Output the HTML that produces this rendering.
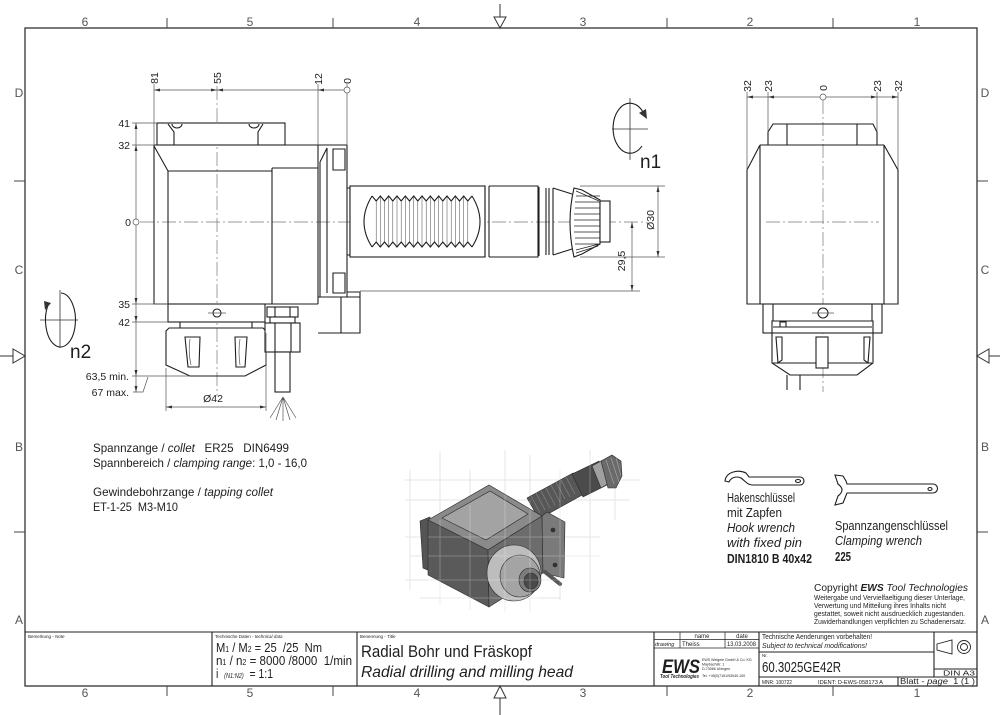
<!DOCTYPE html>
<html><head><meta charset="utf-8"><style>
html,body{margin:0;padding:0;background:#fff}
svg{display:block}
text{font-family:"Liberation Sans","DejaVu Sans",sans-serif;fill:#1e1e1e;white-space:pre}
.o{fill:none;stroke:#1e1e1e;stroke-width:1.1}
.w{fill:#fff;stroke:#1e1e1e;stroke-width:1.1}
.d{fill:none;stroke:#555;stroke-width:.7}
.c{fill:none;stroke:#777;stroke-width:.7;stroke-dasharray:14 3 2 3}
.a{fill:#333;stroke:none}
.lbl{fill:#555}
</style></head><body>
<svg width="1000" height="715" viewBox="0 0 1000 715">
<rect width="1000" height="715" fill="#fff"/>

<!-- FRAME -->
<rect x="25" y="28" width="952" height="658" fill="none" stroke="#333" stroke-width="1.3"/>
<path fill="none" stroke="#444" stroke-width="1" d="M167,18V28M333,18V28M667,18V28M833,18V28M167,686V696M333,686V696M667,686V696M833,686V696M14,181H25M14,532H25M977,181H988M977,532H988"/>
<line x1="500" y1="4" x2="500" y2="17" stroke="#333"/>
<polygon points="494,17 506,17 500,28" fill="#fff" stroke="#333"/>
<line x1="500" y1="698" x2="500" y2="715" stroke="#333"/>
<polygon points="494,698 506,698 500,686" fill="#fff" stroke="#333"/>
<line x1="0" y1="356" x2="13" y2="356" stroke="#333"/>
<polygon points="13,349 13,363 25,356" fill="#fff" stroke="#333"/>
<line x1="989" y1="356" x2="1000" y2="356" stroke="#333"/>
<polygon points="989,349 989,363 977,356" fill="#fff" stroke="#333"/>
<g font-size="12" text-anchor="middle" class="lbl">
<text class="lbl" x="85" y="26">6</text><text class="lbl" x="250" y="26">5</text><text class="lbl" x="417" y="26">4</text><text class="lbl" x="583" y="26">3</text><text class="lbl" x="750" y="26">2</text><text class="lbl" x="917" y="26">1</text>
<text class="lbl" x="85" y="697">6</text><text class="lbl" x="250" y="697">5</text><text class="lbl" x="417" y="697">4</text><text class="lbl" x="583" y="697">3</text><text class="lbl" x="750" y="697">2</text><text class="lbl" x="917" y="697">1</text>
<text class="lbl" x="19" y="97">D</text><text class="lbl" x="19" y="274">C</text><text class="lbl" x="19" y="451">B</text><text class="lbl" x="19" y="624">A</text>
<text class="lbl" x="985" y="97">D</text><text class="lbl" x="985" y="274">C</text><text class="lbl" x="985" y="451">B</text><text class="lbl" x="985" y="624">A</text>
</g>

<!-- CENTER LINES -->
<path class="c" d="M217,86V396M140,222H645M823,100V392M766,222H879"/>

<!-- LEFT VIEW -->
<rect x="157" y="123" width="128" height="22" class="w"/>
<path class="o" d="M168,124L174,132V145M263,124L258,132V145M172,124A5,4 0 0 0 182,124M249,124A5,4 0 0 0 259,124"/>
<path class="o" d="M154,145H347M154,145V304H318M154,146L168,171H272M168,171V304M272,168H318M272,168V304M318,145V304"/>
<path class="o" d="M320,162V297M320,162L327,148V293M347,145V297M318,297H360V333H318M341,297V333M347,292H360V312M333,149h12v21h-12zM333,273h12v20h-12z"/>
<!-- collet left -->
<rect x="168" y="304" width="97" height="18" class="w"/>
<circle cx="217" cy="313" r="4" class="o"/>
<path class="d" d="M208,313H226"/>
<path class="o" d="M180,322V328M252,322V328M169,328H263L266,331V365L245,376H190L166,365V331Z"/>
<path class="o" d="M185,337H200L199,367H188ZM235,337H247L245,367H236Z"/>
<path class="d" d="M190,339Q188,352 191,365M240,339Q238,352 240,365"/>
<!-- fitting -->
<rect x="267" y="307" width="31" height="10" class="w"/>
<path class="o" d="M275,307V317M290,307V317"/>
<rect x="270" y="317" width="25" height="6" class="w"/>
<rect x="265" y="323" width="35" height="29" class="w"/>
<path class="o" d="M275,323V352M291,323V352"/>
<rect x="275" y="352" width="15" height="40" class="w"/>
<path class="d" stroke="#666" d="M283,397L270,418M283,397L276,420M283,397L283,421M283,397L290,420M283,397L296,418"/>

<!-- SHAFT -->
<path class="o" d="M347,188h3v67h-3"/>
<rect x="350" y="186" width="135" height="71" class="w"/>
<path class="o" d="M485,186V257M489,186V257M489,186H538V257H489M539,187V256M546,188V255M549,188V255M553,188V255M553,188L572,194M553,255L572,249"/>
<path class="o" stroke-width="0.9" d="M372,196Q356,222 372,247M472,196Q488,222 472,247"/>
<polyline class="o" stroke-width="0.9" points="372,196 376.2,201 380.3,196 384.5,201 388.7,196 392.8,201 397,196 401.2,201 405.3,196 409.5,201 413.7,196 417.8,201 422,196 426.2,201 430.3,196 434.5,201 438.7,196 442.8,201 447,196 451.2,201 455.3,196 459.5,201 463.7,196 467.8,201 472,196"/>
<polyline class="o" stroke-width="0.9" points="372,247 376.2,242 380.3,247 384.5,242 388.7,247 392.8,242 397,247 401.2,242 405.3,247 409.5,242 413.7,247 417.8,242 422,247 426.2,242 430.3,247 434.5,242 438.7,247 442.8,242 447,247 451.2,242 455.3,247 459.5,242 463.7,247 467.8,242 472,247"/>
<path fill="none" stroke="#444" stroke-width=".5" d="M376.2,201V242M384.5,201V242M392.8,201V242M401.2,201V242M409.5,201V242M417.8,201V242M426.2,201V242M434.5,201V242M442.8,201V242M451.2,201V242M459.5,201V242M467.8,201V242M380.3,197V246M388.7,197V246M397,197V246M405.3,197V246M413.7,197V246M422,197V246M430.3,197V246M438.7,197V246M447,197V246M455.3,197V246M463.7,197V246"/>
<path class="w" d="M574,188L582,190L600,200V244L582,254L574,257Q566,222 574,188Z"/>
<path fill="none" stroke="#222" stroke-width=".7" d="M576,191L599,201M576,196H600M575,202H600M575,208H600M574,214H600M574,220H600M574,226H600M574,232H600M575,238H600M575,244H600M576,250L599,244M576,253L598,246"/>
<rect x="600" y="201" width="10" height="41" class="w"/>

<!-- MIDDLE DIMS -->
<path class="d" d="M580,186H665M580,257H665M658,186V257M632,222V291M360,291H640"/>
<polygon class="a" points="658,186 656.5,192 659.5,192"/><polygon class="a" points="658,257 656.5,251 659.5,251"/>
<polygon class="a" points="632,222 630.5,228 633.5,228"/><polygon class="a" points="632,291 630.5,285 633.5,285"/>
<text font-size="10.5" text-anchor="middle" transform="translate(654,220) rotate(-90)">Ø30</text>
<text font-size="10.5" text-anchor="middle" transform="translate(625,261) rotate(-90)">29,5</text>

<!-- n1 -->
<path d="M612,129H648M630,98V160" stroke="#333" stroke-width=".8"/>
<path class="o" stroke-width=".9" d="M642,146A17,25 0 1 1 643,112"/>
<polygon class="a" points="647,119 639,113 646,109"/>
<text x="640" y="168" font-size="19">n1</text>
<!-- n2 -->
<path d="M40,320H78M60,290V348" stroke="#333" stroke-width=".8"/>
<path class="o" stroke-width=".9" d="M61,293A15,27 0 1 1 48,305"/>
<polygon class="a" points="45,310 44,301 51,303"/>
<text x="70" y="358" font-size="19">n2</text>

<!-- LEFT DIMS -->
<path class="d" d="M154,84V145M318,84V145M347,84V87M347,93V145M154,90H344M136,123V219M136,225V392M132,123H157M132,145H154M132,304H168M132,322H168M132,376H190M133,392H143L148,377M166,368V411M266,333V411M166,407H266"/>
<circle cx="347" cy="90" r="3" class="d"/>
<circle cx="136" cy="222" r="3" class="d"/>
<polygon class="a" points="154,90 160,88.5 160,91.5"/><polygon class="a" points="217,90 223,88.5 223,91.5"/><polygon class="a" points="217,90 211,88.5 211,91.5"/><polygon class="a" points="318,90 324,88.5 324,91.5"/>
<polygon class="a" points="136,123 134.5,129 137.5,129"/><polygon class="a" points="136,145 134.5,151 137.5,151"/>
<polygon class="a" points="136,304 134.5,298 137.5,298"/><polygon class="a" points="136,322 134.5,316 137.5,316"/>
<polygon class="a" points="136,376 134.5,370 137.5,370"/><polygon class="a" points="136,392 134.5,386 137.5,386"/>
<polygon class="a" points="166,407 172,405.5 172,408.5"/><polygon class="a" points="266,407 260,405.5 260,408.5"/>
<g font-size="10.5" text-anchor="end">
<text x="130" y="127">41</text><text x="130" y="149">32</text><text x="131" y="226">0</text><text x="130" y="308">35</text><text x="130" y="326">42</text><text x="129" y="380">63,5 min.</text><text x="129" y="396">67 max.</text>
</g>
<g font-size="10.5" text-anchor="middle">
<text transform="translate(158,78) rotate(-90)">81</text>
<text transform="translate(221,78) rotate(-90)">55</text>
<text transform="translate(322,79) rotate(-90)">12</text>
<text transform="translate(351,81) rotate(-90)">0</text>
<text x="213" y="402">Ø42</text>
</g>

<!-- RIGHT VIEW -->
<path class="o" d="M768,145V132L773,124H873L877,132V145M787,124V145M857,124V145"/>
<path class="o" d="M760,145H884M760,145L747,170V304H898V170L884,145M760,145V304M884,145V304"/>
<rect x="763" y="304" width="119" height="29" class="w"/>
<path class="o" d="M773,304V321M872,304V321"/>
<circle cx="823" cy="313" r="5" class="o"/>
<path class="d" d="M812,313H834"/>
<path class="o" d="M772,321H873V363L857,375H790L772,363ZM773,327H872M773,363H872M780,322h6v5h-6z"/>
<rect x="816" y="337" width="12" height="31" class="w"/>
<path class="o" d="M776,337H782V360L778,363ZM864,337H870L868,363L864,360Z"/>
<path class="o" d="M787,375V390M800,375V390"/>
<path class="d" d="M747,92V170M768,92V132M877,92V132M898,92V170M747,97H820M826,97H898"/>
<circle cx="823" cy="97" r="3" class="d"/>
<polygon class="a" points="747,97 753,95.5 753,98.5"/><polygon class="a" points="768,97 774,95.5 774,98.5"/><polygon class="a" points="877,97 871,95.5 871,98.5"/><polygon class="a" points="898,97 892,95.5 892,98.5"/>
<g font-size="10.5" text-anchor="middle">
<text transform="translate(751,86) rotate(-90)">32</text>
<text transform="translate(772,86) rotate(-90)">23</text>
<text transform="translate(827,88) rotate(-90)">0</text>
<text transform="translate(881,86) rotate(-90)">23</text>
<text transform="translate(902,86) rotate(-90)">32</text>
</g>

<!-- NOTES LEFT -->
<g font-size="12">
<text x="93" y="452" textLength="196" lengthAdjust="spacingAndGlyphs">Spannzange / <tspan font-style="italic">collet</tspan>   ER25   DIN6499</text>
<text x="93" y="467" textLength="214" lengthAdjust="spacingAndGlyphs">Spannbereich / <tspan font-style="italic">clamping range</tspan>: 1,0 - 16,0</text>
<text x="93" y="496" textLength="180" lengthAdjust="spacingAndGlyphs">Gewindebohrzange / <tspan font-style="italic">tapping collet</tspan></text>
<text x="93" y="511" textLength="85" lengthAdjust="spacingAndGlyphs">ET-1-25  M3-M10</text>
</g>

<!-- 3D MODEL -->
<g stroke="#e6e6e6" stroke-width="1">
<path d="M410,470V590M440,452V605M470,470V610M505,450V612M530,455V612M560,470V600M590,450V592M615,460V520M405,480H640M405,500H630M405,537H600M410,556H600M405,580H560M420,598H560"/>
</g>
<g stroke="#2a2a2a" stroke-width=".6">
<polygon points="527,498 573,473 584,494 539,519" fill="#575757"/>
<path d="M531,496l9,17M536,493l9,17M541,491l9,17M546,488l9,17M551,485l9,17M556,482l9,17M561,480l9,17M566,477l9,17" stroke="#8a8a8a"/>
<polygon points="572,474 599,461 609,484 583,497" fill="#4b4b4b"/>
<polygon points="592,466 603,460 611,482 601,488" fill="#a0a0a0"/>
<polygon points="601,461 612,455 621,461 622,476 616,488 608,488" fill="#6a6a6a"/>
<path d="M606,460l8,24M611,458l8,24M616,458l5,18" stroke="#aaa"/>
<polygon points="420,521 430,517 430,571 423,568" fill="#555"/>
<polygon points="428,520 489,485 542,516 488,550" fill="#8a8a8a"/>
<polygon points="442,518 490,491 528,514 486,540" fill="#a3a3a3"/>
<polygon points="428,520 488,550 489,607 428,575" fill="#5a5a5a"/>
<polygon points="488,550 542,516 543,573 489,607" fill="#6c6c6c"/>
<polygon points="542,516 547,512 565,522 564,578 543,573" fill="#7a7a7a"/>
<circle cx="553" cy="530" r="2" fill="#333"/><circle cx="555" cy="565" r="2" fill="#333"/>
<ellipse cx="514" cy="573" rx="27" ry="28" fill="#bdbdbd"/>
<ellipse cx="520" cy="576" rx="20" ry="21" fill="#a4a4a4"/>
<ellipse cx="530" cy="580" rx="11" ry="12" fill="#7c7c7c"/>
<ellipse cx="531" cy="581" rx="7" ry="8" fill="#4a4a4a"/>
<line x1="545" y1="572" x2="560" y2="584" stroke="#555" stroke-width="4" stroke-linecap="round"/>
</g>
<g stroke="#fff" stroke-opacity=".25" stroke-width="1">
<path d="M440,520V605M470,505V610M505,495V612M530,500V612M560,470V590M590,455V500M428,537H560M428,556H600M428,580H560M440,598H540"/>
</g>

<!-- WRENCHES -->
<path class="o" stroke-width="1" d="M725,481C726,472 738,469 746,473L749,477H800A4,4 0 0 1 800,485H752C748,485 745,481 741,478C737,476 731,477 729,482Z"/>
<ellipse cx="798" cy="481" rx="2.5" ry="1.5" class="o" stroke-width=".8"/>
<path class="o" stroke-width="1" d="M835,475L843,476L846,481L847,484H933A4,4 0 0 1 933,493H847L845,498L843,503L835,505L838,496Q846,490 838,484Z"/>
<ellipse cx="930" cy="489" rx="2" ry="1.5" class="o" stroke-width=".8"/>
<g font-size="12.5">
<text x="727" y="502" textLength="68" lengthAdjust="spacingAndGlyphs">Hakenschlüssel</text>
<text x="727" y="517" textLength="55" lengthAdjust="spacingAndGlyphs">mit Zapfen</text>
<text x="727" y="532" textLength="68" lengthAdjust="spacingAndGlyphs" font-style="italic">Hook wrench</text>
<text x="727" y="547" textLength="75" lengthAdjust="spacingAndGlyphs" font-style="italic">with fixed pin</text>
<text x="727" y="563" textLength="85" lengthAdjust="spacingAndGlyphs" font-weight="bold">DIN1810 B 40x42</text>
<text x="835" y="530" textLength="113" lengthAdjust="spacingAndGlyphs">Spannzangenschlüssel</text>
<text x="835" y="545" textLength="87" lengthAdjust="spacingAndGlyphs" font-style="italic">Clamping wrench</text>
<text x="835" y="561" textLength="16" lengthAdjust="spacingAndGlyphs" font-weight="bold">225</text>
</g>
<text x="814" y="591" font-size="10.5" textLength="154" lengthAdjust="spacingAndGlyphs">Copyright <tspan font-weight="bold" font-style="italic">EWS</tspan> <tspan font-style="italic">Tool Technologies</tspan></text>
<g font-size="7.2" fill="#222">
<text x="814" y="600" textLength="151" lengthAdjust="spacingAndGlyphs">Weitergabe und Vervielfaeltigung dieser Unterlage,</text>
<text x="814" y="608" textLength="132" lengthAdjust="spacingAndGlyphs">Verwertung und Mitteilung ihres Inhalts nicht</text>
<text x="814" y="616" textLength="151" lengthAdjust="spacingAndGlyphs">gestattet, soweit nicht ausdruecklich zugestanden.</text>
<text x="814" y="624" textLength="152" lengthAdjust="spacingAndGlyphs">Zuwiderhandlungen verpflichten zu Schadenersatz.</text>
</g>

<!-- TITLE BLOCK -->
<path fill="none" stroke="#222" stroke-width="1.1" d="M25,632H977M212,632V686M357,632V686M654,632V686M759,632V686M934,632V677M759,652H934M759,677H977M934,669H977M898,677V686"/>
<path fill="none" stroke="#222" stroke-width=".7" d="M654,639.5H759M654,648H759M680,632V648M725,632V648"/>
<g font-size="4.5" fill="#444">
<text x="28" y="638">Bemerkung - <tspan font-style="italic">Note</tspan></text>
<text x="215" y="638">Technische Daten - <tspan font-style="italic">technical data</tspan></text>
<text x="360" y="638">Benennung - <tspan font-style="italic">Title</tspan></text>
<text x="762" y="657">Nr.</text>
</g>
<text x="216" y="652" font-size="13" textLength="106" lengthAdjust="spacingAndGlyphs">M<tspan font-size="8">1</tspan> / M<tspan font-size="8">2</tspan> = 25  /25  Nm</text>
<text x="216" y="665" font-size="13" textLength="136" lengthAdjust="spacingAndGlyphs">n<tspan font-size="8">1</tspan> / n<tspan font-size="8">2</tspan> = 8000 /8000  1/min</text>
<text x="216" y="678" font-size="13" textLength="57" lengthAdjust="spacingAndGlyphs">i  <tspan font-size="7" font-style="italic">(N1:N2)</tspan>  = 1:1</text>
<text x="361" y="657" font-size="17" textLength="171" lengthAdjust="spacingAndGlyphs">Radial Bohr und Fräskopf</text>
<text x="361" y="677" font-size="16" font-style="italic" textLength="212" lengthAdjust="spacingAndGlyphs">Radial drilling and milling head</text>
<g font-size="6">
<text x="702" y="638" text-anchor="middle">name</text>
<text x="742" y="638" text-anchor="middle">date</text>
<text x="655" y="646" font-size="5.5" font-style="italic">drawing</text>
<text x="682" y="646">Theiss</text>
<text x="727" y="646" textLength="29" lengthAdjust="spacingAndGlyphs">13.03.2008</text>
</g>
<text x="662" y="673" font-size="19" font-weight="bold" font-style="italic" textLength="38" lengthAdjust="spacingAndGlyphs" fill="#000">EWS</text>
<text x="660" y="678" font-size="5" font-weight="bold" font-style="italic" textLength="39" lengthAdjust="spacingAndGlyphs">Tool Technologies</text>
<g font-size="3.6" fill="#555">
<text x="702" y="661">EWS Weigele GmbH &amp; Co. KG</text>
<text x="702" y="665.5">Maybachstr. 1</text>
<text x="702" y="670">D-73066 Uhingen</text>
<text x="702" y="677">Tel. +49(0)7161/93040-100</text>
</g>
<text x="762" y="639" font-size="7.5" textLength="110" lengthAdjust="spacingAndGlyphs">Technische Aenderungen vorbehalten!</text>
<text x="762" y="648" font-size="7.5" font-style="italic" textLength="105" lengthAdjust="spacingAndGlyphs">Subject to technical modifications!</text>
<text x="762" y="672" font-size="15" textLength="79" lengthAdjust="spacingAndGlyphs">60.3025GE42R</text>
<text x="762" y="684" font-size="5.5" textLength="30" lengthAdjust="spacingAndGlyphs">MNR: 100722</text>
<text x="818" y="684" font-size="5.5" textLength="65" lengthAdjust="spacingAndGlyphs">IDENT: D-EWS-058173 A</text>
<text x="900" y="684" font-size="8" textLength="75" lengthAdjust="spacingAndGlyphs">Blatt - <tspan font-style="italic">page</tspan>  1 (1 )</text>
<text x="943" y="675.5" font-size="7" textLength="32" lengthAdjust="spacingAndGlyphs">DIN A3</text>
<path fill="none" stroke="#222" stroke-width=".9" d="M937,644L952,640V654L937,650ZM937,644V650"/>
<circle cx="964" cy="647" r="6.5" fill="none" stroke="#222" stroke-width=".9"/>
<circle cx="964" cy="647" r="3.5" fill="none" stroke="#222" stroke-width=".9"/>
</svg>
</body></html>
